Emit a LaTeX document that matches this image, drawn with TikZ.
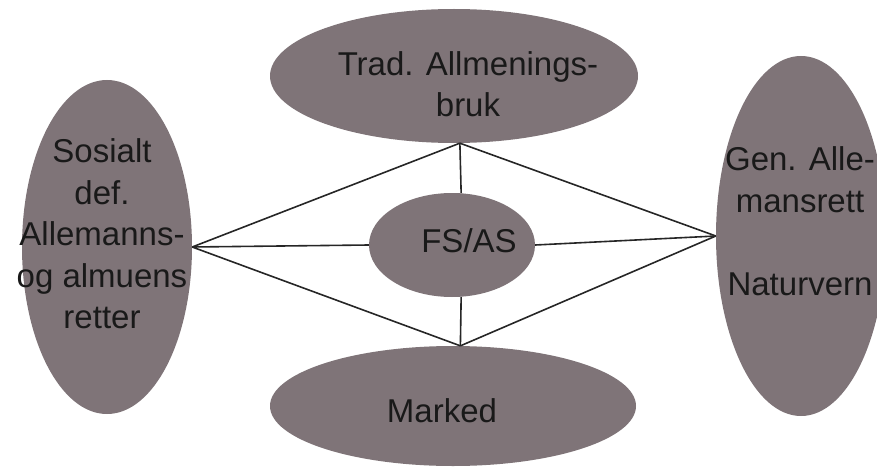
\documentclass[tikz,border=0pt]{standalone}
\usepackage{fontspec}
\setmainfont{Liberation Sans}
\usetikzlibrary{shapes.geometric}
\definecolor{blobfill}{RGB}{127,116,120}

\begin{document}
\begin{tikzpicture}[
        x=1pt, y=-1pt,
        blob/.style={ellipse, fill=blobfill, inner sep=0pt},
        txt/.style={inner sep=0pt, align=center, text=black!90,
          font=\fontsize{33}{41.5}\selectfont},
        link/.style={draw=black!85, line width=1.6pt}
      ]
      \useasboundingbox (0,0) rectangle (877,468);
      \node[blob, minimum width=170, minimum height=334] (sos) at (107,247) {};
      \node[blob, minimum width=170, minimum height=360] (gen) at (801,236) {};
      \node[blob, minimum width=368, minimum height=134] (trad) at (454,76) {};
      \node[blob, minimum width=166, minimum height=104] (fs) at (452,245) {};
      \node[blob, minimum width=366, minimum height=120] (mark) at (453,406) {};
      \node[txt] (sostxt) at (102,234) {Sosialt\\def.\\Allemanns-\\og almuens\\retter};
      \node[txt] (gentxt) at (800,221) {Gen. Alle-\\mansrett\\[41.5pt]Naturvern};
      \node[txt] (tradtxt) at (468,84) {Trad. Allmenings-\\bruk};
      \node[txt, anchor=base] (fstxt) at (469,252) {FS/AS};
      \node[txt, anchor=base] (marktxt) at (442,422) {Marked};
      % the two apexes sit a bit right of the centres
      \draw[link] (sos.east) -- (trad.-85);
      \draw[link] (sos.east) -- (fs.west);
      \draw[link] (sos.east) -- (mark.83);
      \draw[link] (gen.west) -- (trad.-85);
      \draw[link] (gen.west) -- (fs.east);
      \draw[link] (gen.west) -- (mark.83);
      \draw[link] (trad.-85) -- (fs.80);
      \draw[link] (fs.-80) -- (mark.83);
    \end{tikzpicture}
\end{document}
